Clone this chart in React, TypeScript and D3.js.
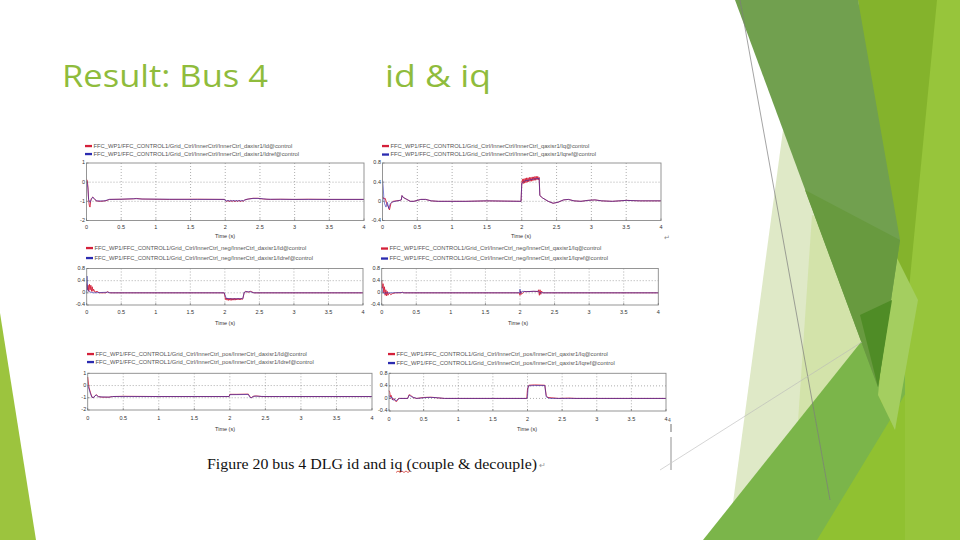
import React from 'react';
import * as d3 from 'd3';

// ---------- data ----------
const timeTicks = [0, 0.5, 1, 1.5, 2, 2.5, 3, 3.5, 4];
const timeTickLabels = ['0', '0.5', '1', '1.5', '2', '2.5', '3', '3.5', '4'];
const yTicksWide = [1, 0, -1, -2];
const yTickLabelsWide = ['1', '0', '-1', '-2'];
const yTicksNarrow = [0.8, 0.4, 0, -0.4];
const yTickLabelsNarrow = ['0.8', '0.4', '0', '-0.4'];

const p1Legend = [
  'FFC_WP1/FFC_CONTROL1/Grid_Ctrl/InnerCtrl/InnerCtrl_daxisr1/Id@control',
  'FFC_WP1/FFC_CONTROL1/Grid_Ctrl/InnerCtrl/InnerCtrl_daxisr1/Idref@control',
];
const p2Legend = [
  'FFC_WP1/FFC_CONTROL1/Grid_Ctrl/InnerCtrl/InnerCtrl_qaxisr1/Iq@control',
  'FFC_WP1/FFC_CONTROL1/Grid_Ctrl/InnerCtrl/InnerCtrl_qaxisr1/Iqref@control',
];
const p3Legend = [
  'FFC_WP1/FFC_CONTROL1/Grid_Ctrl/InnerCtrl_neg/InnerCtrl_daxisr1/Id@control',
  'FFC_WP1/FFC_CONTROL1/Grid_Ctrl/InnerCtrl_neg/InnerCtrl_daxisr1/Idref@control',
];
const p4Legend = [
  'FFC_WP1/FFC_CONTROL1/Grid_Ctrl/InnerCtrl_neg/InnerCtrl_qaxisr1/Iq@control',
  'FFC_WP1/FFC_CONTROL1/Grid_Ctrl/InnerCtrl_neg/InnerCtrl_qaxisr1/Iqref@control',
];
const p5Legend = [
  'FFC_WP1/FFC_CONTROL1/Grid_Ctrl/InnerCtrl_pos/InnerCtrl_daxisr1/Id@control',
  'FFC_WP1/FFC_CONTROL1/Grid_Ctrl/InnerCtrl_pos/InnerCtrl_daxisr1/Idref@control',
];
const p6Legend = [
  'FFC_WP1/FFC_CONTROL1/Grid_Ctrl/InnerCtrl_pos/InnerCtrl_qaxisr1/Iq@control',
  'FFC_WP1/FFC_CONTROL1/Grid_Ctrl/InnerCtrl_pos/InnerCtrl_qaxisr1/Iqref@control',
];

const p1Id: [number, number][] = [
  [0, 0.15], [0.01, 0.1], [0.02, -0.2], [0.03, -0.9], [0.04, -1.2], [0.05, -1.3], [0.06, -1.0], [0.07, -0.85],
  [0.09, -0.78], [0.11, -0.85], [0.14, -0.98], [0.2, -1.0], [0.28, -0.97], [0.33, -0.9], [0.5, -0.89], [0.68, -0.87],
  [0.72, -0.85], [0.8, -0.88], [1.2, -0.9], [1.6, -0.89], [1.99, -0.9], [2.0, -0.95], [2.02, -1.02], [2.04, -0.94],
  [2.06, -1.03], [2.08, -0.95], [2.1, -1.02], [2.12, -0.94], [2.14, -1.03], [2.16, -0.95], [2.18, -1.02], [2.2, -0.94],
  [2.22, -1.03], [2.24, -0.95], [2.26, -1.0], [2.28, -0.93], [2.33, -0.88], [2.4, -0.84], [2.47, -0.84], [2.55, -0.88],
  [2.65, -0.9], [2.8, -0.89], [3.0, -0.9], [3.2, -0.89], [3.5, -0.9], [4, -0.9],
];
const p1IdRef: [number, number][] = [
  [0, 0.1], [0.02, -0.3], [0.03, -0.9], [0.05, -1.05], [0.07, -0.9], [0.09, -0.78], [0.12, -0.9], [0.15, -0.98],
  [0.25, -0.98], [0.33, -0.9], [0.5, -0.89], [0.7, -0.86], [0.8, -0.88], [1.5, -0.9], [1.99, -0.9], [2.0, -0.97],
  [2.26, -0.97], [2.3, -0.9], [2.4, -0.85], [2.5, -0.85], [2.6, -0.89], [3.0, -0.9], [4, -0.9],
];

const p2Iq: [number, number][] = [
  [0, 0.1], [0.02, 0.05], [0.04, 0.06], [0.06, -0.05], [0.08, -0.1], [0.1, -0.18], [0.12, -0.05], [0.15, 0.0],
  [0.25, 0.02], [0.27, 0.03], [0.28, 0.12], [0.3, 0.08], [0.35, 0.04], [0.4, 0.0], [0.45, 0.0], [0.55, 0.04],
  [0.62, 0.04], [0.7, 0.01], [0.8, 0.0], [1.2, 0.0], [1.5, 0.01], [1.99, 0.0],
  [2.0, 0.36], [2.01, 0.46], [2.02, 0.37], [2.03, 0.47], [2.04, 0.38], [2.05, 0.48], [2.06, 0.39], [2.07, 0.49],
  [2.08, 0.4], [2.09, 0.49], [2.1, 0.41], [2.11, 0.5], [2.12, 0.42], [2.13, 0.5], [2.14, 0.42], [2.15, 0.51],
  [2.16, 0.43], [2.17, 0.51], [2.18, 0.44], [2.19, 0.52], [2.2, 0.44], [2.21, 0.52], [2.22, 0.45], [2.23, 0.52],
  [2.24, 0.45], [2.25, 0.5], [2.26, 0.12], [2.3, 0.07], [2.38, 0.0], [2.45, -0.04], [2.52, -0.02], [2.6, 0.03],
  [2.67, 0.04], [2.75, 0.01], [2.85, 0.0], [2.95, 0.02], [3.05, 0.03], [3.15, 0.01], [3.3, 0.0], [3.5, 0.02],
  [3.7, 0.01], [4, 0.01],
];
const p2IqRef: [number, number][] = [
  [0, 0.45], [0.01, 0.3], [0.02, 0.05], [0.03, -0.05], [0.05, -0.12], [0.07, -0.02], [0.09, -0.15], [0.11, -0.05],
  [0.13, -0.02], [0.18, 0.0], [0.25, 0.02], [0.27, 0.03], [0.28, 0.12], [0.3, 0.08], [0.35, 0.04], [0.4, 0.0],
  [0.45, 0.0], [0.55, 0.04], [0.62, 0.04], [0.7, 0.01], [0.8, 0.0], [1.2, 0.0], [1.5, 0.01], [1.99, 0.0],
  [2.0, 0.38], [2.05, 0.43], [2.1, 0.44], [2.15, 0.46], [2.2, 0.47], [2.25, 0.48], [2.26, 0.12], [2.3, 0.07],
  [2.38, 0.0], [2.45, -0.04], [2.52, -0.02], [2.6, 0.03], [2.67, 0.04], [2.75, 0.01], [2.85, 0.0], [2.95, 0.02],
  [3.05, 0.03], [3.15, 0.01], [3.3, 0.0], [3.5, 0.02], [3.7, 0.01], [4, 0.01],
];

const p3Id: [number, number][] = [
  [0, 0.3], [0.01, 0.1], [0.02, 0.25], [0.03, 0.05], [0.04, 0.28], [0.05, 0.1], [0.06, 0.25], [0.07, 0.05],
  [0.08, 0.2], [0.09, 0.05], [0.1, 0.12], [0.12, 0.02], [0.15, 0.05], [0.18, 0.0], [0.28, 0.0], [0.3, 0.04],
  [0.33, 0.0], [1.99, 0.0], [2.0, -0.1], [2.01, -0.22], [2.02, -0.17], [2.03, -0.24], [2.04, -0.18], [2.05, -0.25],
  [2.06, -0.18], [2.07, -0.24], [2.08, -0.18], [2.09, -0.25], [2.1, -0.18], [2.11, -0.24], [2.12, -0.18], [2.13, -0.24],
  [2.14, -0.18], [2.15, -0.24], [2.16, -0.18], [2.17, -0.23], [2.18, -0.18], [2.19, -0.23], [2.2, -0.18], [2.21, -0.23],
  [2.22, -0.18], [2.23, -0.23], [2.24, -0.18], [2.25, -0.22], [2.26, -0.2], [2.28, 0.0], [2.3, 0.05], [2.34, 0.02],
  [2.37, 0.05], [2.42, 0.0], [4, 0.0],
];
const p3IdRef: [number, number][] = [
  [0, 0.0], [0.005, 0.55], [0.015, 0.1], [0.03, 0.05], [0.06, 0.02], [0.1, 0.0], [0.3, 0.02], [0.35, 0.0],
  [1.99, 0.0], [2.0, -0.05], [2.02, -0.18], [2.1, -0.2], [2.26, -0.19], [2.28, 0.02], [2.32, 0.04], [2.38, 0.03],
  [2.42, 0.0], [4, 0.0],
];

const p4Iq: [number, number][] = [
  [0, 0.4], [0.01, 0.15], [0.02, 0.3], [0.03, 0.0], [0.04, 0.2], [0.05, -0.08], [0.06, 0.1], [0.07, -0.1],
  [0.08, 0.05], [0.09, -0.08], [0.11, 0.0], [0.13, -0.06], [0.16, -0.02], [0.2, 0.0], [0.28, 0.0], [0.3, 0.02],
  [0.32, 0.0], [1.99, 0.0], [2.0, -0.08], [2.01, 0.06], [2.02, -0.05], [2.04, 0.0], [2.06, 0.04], [2.1, 0.04],
  [2.2, 0.05], [2.26, 0.04], [2.27, 0.1], [2.28, -0.08], [2.29, 0.1], [2.3, -0.05], [2.31, 0.06], [2.33, 0.0],
  [4, 0.0],
];
const p4IqRef: [number, number][] = [
  [0, 0.2], [0.01, 0.05], [0.03, -0.02], [0.06, 0.0], [0.1, 0.0], [0.3, 0.01], [0.32, 0.0], [1.99, 0.0],
  [2.0, 0.12], [2.01, -0.02], [2.03, 0.05], [2.1, 0.04], [2.2, 0.05], [2.26, 0.05], [2.28, 0.02], [2.3, 0.0],
  [4, 0.0],
];

const p5Id: [number, number][] = [
  [0, 0.7], [0.01, 0.2], [0.02, -0.2], [0.04, -0.6], [0.06, -0.95], [0.08, -1.0], [0.1, -0.85], [0.12, -0.75],
  [0.15, -0.9], [0.2, -0.95], [0.3, -0.95], [0.35, -0.9], [0.5, -0.88], [1.0, -0.9], [1.5, -0.9], [1.99, -0.9],
  [2.0, -0.72], [2.1, -0.72], [2.26, -0.7], [2.28, -0.9], [2.3, -1.0], [2.33, -0.88], [2.37, -0.85], [2.45, -0.9],
  [2.7, -0.9], [4, -0.9],
];
const p5IdRef: [number, number][] = [
  [0, 0.0], [0.02, -0.3], [0.04, -0.7], [0.06, -0.95], [0.08, -1.0], [0.1, -0.85], [0.12, -0.78], [0.15, -0.92],
  [0.3, -0.95], [0.35, -0.9], [1.99, -0.9], [2.0, -0.75], [2.26, -0.73], [2.28, -0.95], [2.3, -1.0], [2.34, -0.87],
  [2.4, -0.88], [2.5, -0.9], [4, -0.9],
];

const p6Iq: [number, number][] = [
  [0, 0.25], [0.01, 0.2], [0.02, 0.05], [0.03, 0.1], [0.05, -0.05], [0.07, 0.0], [0.09, -0.08], [0.11, -0.1],
  [0.13, -0.02], [0.15, 0.0], [0.27, 0.0], [0.29, 0.12], [0.31, 0.1], [0.35, 0.03], [0.4, 0.0], [0.5, 0.03],
  [0.6, 0.04], [0.7, 0.02], [0.8, 0.0], [1.99, 0.0], [2.0, 0.3], [2.02, 0.42], [2.1, 0.43], [2.25, 0.42],
  [2.27, 0.1], [2.29, 0.03], [2.35, 0.02], [2.45, 0.0], [2.6, 0.01], [2.7, 0.0], [4, 0.0],
];
const p6IqRef: [number, number][] = [
  [0, 0.1], [0.02, 0.0], [0.04, 0.05], [0.06, -0.06], [0.08, -0.02], [0.1, -0.08], [0.12, -0.04], [0.15, 0.0],
  [0.27, 0.0], [0.29, 0.1], [0.33, 0.05], [0.4, 0.0], [0.55, 0.03], [0.65, 0.03], [0.8, 0.0], [1.99, 0.0],
  [2.0, 0.05], [2.01, 0.4], [2.1, 0.41], [2.25, 0.41], [2.27, 0.05], [2.32, 0.0], [4, 0.0],
];

// ---------- layout ----------
type Panel = {
  x0: number; x1: number; yTop: number; yBot: number;
  domain: [number, number]; ticks: number[]; tickLabels: string[];
  legend: string[]; legendX: number; legendY: [number, number];
  red: [number, number][]; blue: [number, number][];
  timeX: number; timeY: number; labelY: number;
};

const panels: Panel[] = [
  { x0: 86.5, x1: 364, yTop: 163, yBot: 220.5, domain: [-2, 1], ticks: yTicksWide, tickLabels: yTickLabelsWide,
    legend: p1Legend, legendX: 85, legendY: [146, 154], red: p1Id, blue: p1IdRef, timeX: 225, timeY: 236.5, labelY: 227.5 },
  { x0: 382.5, x1: 661, yTop: 163, yBot: 220.5, domain: [-0.4, 0.8], ticks: yTicksNarrow, tickLabels: yTickLabelsNarrow,
    legend: p2Legend, legendX: 382, legendY: [146, 154.5], red: p2Iq, blue: p2IqRef, timeX: 521, timeY: 236.5, labelY: 227.5 },
  { x0: 86.7, x1: 363, yTop: 268.5, yBot: 305, domain: [-0.4, 0.8], ticks: yTicksNarrow, tickLabels: yTickLabelsNarrow,
    legend: p3Legend, legendX: 86, legendY: [248, 258], red: p3Id, blue: p3IdRef, timeX: 225, timeY: 323.5, labelY: 312.5 },
  { x0: 381.7, x1: 658.3, yTop: 268.5, yBot: 305, domain: [-0.4, 0.8], ticks: yTicksNarrow, tickLabels: yTickLabelsNarrow,
    legend: p4Legend, legendX: 381, legendY: [248.5, 258.5], red: p4Iq, blue: p4IqRef, timeX: 518, timeY: 323.5, labelY: 312.7 },
  { x0: 87.7, x1: 372, yTop: 373.3, yBot: 410, domain: [-2, 1], ticks: yTicksWide, tickLabels: yTickLabelsWide,
    legend: p5Legend, legendX: 87, legendY: [354, 362], red: p5Id, blue: p5IdRef, timeX: 225, timeY: 429.5, labelY: 419 },
  { x0: 389, x1: 666, yTop: 373.3, yBot: 411, domain: [-0.4, 0.8], ticks: yTicksNarrow, tickLabels: yTickLabelsNarrow,
    legend: p6Legend, legendX: 388, legendY: [354, 363], red: p6Iq, blue: p6IqRef, timeX: 527, timeY: 430, labelY: 420 },
];

const RED = '#d4203a';
const BLUE = '#2b2bb0';
const SANS = '"Liberation Sans", Arial, sans-serif';

function ChartPanel({ p }: { p: Panel }) {
  const x = d3.scaleLinear().domain([0, 4]).range([p.x0, p.x1]);
  const y = d3.scaleLinear().domain(p.domain).range([p.yBot, p.yTop]);
  const line = d3.line<[number, number]>().x((d) => x(d[0])).y((d) => y(d[1]));
  const innerX = timeTicks.slice(1, -1);
  const innerY = p.ticks.slice(1, -1);
  return (
    <g>
      {p.legend.map((t, i) => (
        <g key={i}>
          <rect x={p.legendX} y={p.legendY[i] - 1.1} width={7} height={2.3} fill={i === 0 ? RED : BLUE} />
          <text x={p.legendX + 8.5} y={p.legendY[i]} fontSize={5.8} fill="#555" fontFamily={SANS} dominantBaseline="middle">{t}</text>
        </g>
      ))}
      {innerX.map((t) => (
        <line key={'gx' + t} x1={x(t)} x2={x(t)} y1={p.yTop} y2={p.yBot} stroke="#777" strokeWidth={0.6} strokeDasharray="1,2" />
      ))}
      {innerY.map((t) => (
        <line key={'gy' + t} x1={p.x0} x2={p.x1} y1={y(t)} y2={y(t)} stroke="#777" strokeWidth={0.6} strokeDasharray="1,2" />
      ))}
      <path d={line(p.red) || ''} fill="none" stroke={RED} strokeWidth={0.9} />
      <path d={line(p.blue) || ''} fill="none" stroke={BLUE} strokeWidth={0.8} strokeOpacity={0.75} />
      <rect x={p.x0} y={p.yTop} width={p.x1 - p.x0} height={p.yBot - p.yTop} fill="none" stroke="#8a8a8a" strokeWidth={0.9} />
      {timeTicks.map((t) => (
        <line key={'tx' + t} x1={x(t)} x2={x(t)} y1={p.yBot} y2={p.yBot - 2} stroke="#666" strokeWidth={0.6} />
      ))}
      {p.ticks.map((t) => (
        <line key={'ty' + t} x1={p.x0} x2={p.x0 + 2} y1={y(t)} y2={y(t)} stroke="#666" strokeWidth={0.6} />
      ))}
      {timeTicks.map((t, i) => (
        <text key={'lx' + t} x={x(t)} y={p.labelY} fontSize={5.5} fill="#333" fontFamily={SANS} textAnchor="middle" dominantBaseline="middle">
          {timeTickLabels[i]}
        </text>
      ))}
      {p.ticks.map((t, i) => (
        <text key={'ly' + t} x={p.x0 - 1.5} y={y(t)} fontSize={5.5} fill="#333" fontFamily={SANS} textAnchor="end" dominantBaseline="middle">
          {p.tickLabels[i]}
        </text>
      ))}
      <text x={p.timeX} y={p.timeY} fontSize={5.5} fill="#333" fontFamily={SANS} textAnchor="middle" dominantBaseline="middle">Time (s)</text>
    </g>
  );
}

function Decor() {
  const pts = (a: number[][]) => a.map((d) => d.join(',')).join(' ');
  return (
    <g>
      <polygon points={pts([[0, 313], [36, 540], [0, 540]])} fill="#9cc43e" />
      <polygon points={pts([[783, 130], [728, 540], [905, 540], [905, 250]])} fill="#dfe9c7" />
      <polygon points={pts([[812, 215], [790, 540], [905, 540], [905, 250]])} fill="#cfe1a2" opacity={0.8} />
      <polygon points={pts([[703, 540], [960, 218], [960, 540]])} fill="#7bb54a" />
      <polygon points={pts([[817, 540], [890, 420], [960, 300], [960, 540]])} fill="#90c131" />
      <polygon points={pts([[858, 0], [940, 0], [910, 290], [892, 420], [880, 400]])} fill="#84b32c" />
      <polygon points={pts([[937, 0], [960, 0], [960, 540], [905, 540], [905, 330]])} fill="#97c53b" />
      <polygon points={pts([[893, 250], [918, 300], [895, 430], [878, 395]])} fill="#a4ce60" />
      <polygon points={pts([[735, 0], [858, 0], [900, 240], [878, 387]])} fill="#71a04f" />
      <polygon points={pts([[805, 190], [900, 240], [878, 387]])} fill="#689a3f" />
      <polygon points={pts([[860, 315], [892, 300], [878, 387]])} fill="#4f8c26" />
      <line x1={740} y1={0} x2={830} y2={500} stroke="#7d7d7d" strokeWidth={0.7} />
      <line x1={660} y1={470} x2={862} y2={342} stroke="#b8b8b8" strokeWidth={0.6} />
    </g>
  );
}

const TITLE_FONT = '"Open Sans", Lato, sans-serif';

export default function App() {
  return (
    <svg width={960} height={540} style={{ position: 'absolute', left: 0, top: 0, background: '#fff' }}>
      <rect x={0} y={0} width={960} height={540} fill="#fff" />
      <Decor />
      <text x={62} y={87} fontSize={31} fill="#8fbc3c" fontFamily={TITLE_FONT} textLength={206} lengthAdjust="spacingAndGlyphs">Result: Bus 4</text>
      <text x={385} y={87} fontSize={31} fill="#8fbc3c" fontFamily={TITLE_FONT} textLength={106} lengthAdjust="spacingAndGlyphs">id &amp; iq</text>
      {panels.map((p, i) => (
        <ChartPanel key={i} p={p} />
      ))}
      <text x={664} y={240} fontSize={7} fill="#888" fontFamily={SANS}>↵</text>
      <text x={668} y={422} fontSize={5} fill="#555" fontFamily={SANS}>4</text>
      <line x1={671} y1={424} x2={671} y2={432} stroke="#333" strokeWidth={0.7} />
      <line x1={671} y1={437} x2={671} y2={470} stroke="#c8c8c8" strokeWidth={2} />
      <text x={207} y={469} fontSize={15.5} fill="#111" fontFamily='"Liberation Serif", "Times New Roman", serif' textLength={330} lengthAdjust="spacingAndGlyphs">
        Figure 20 bus 4 DLG id and iq (couple &amp; decouple)
      </text>
      <path d="M396,472.5 l2,-1.5 l2,1.5 l2,-1.5 l2,1.5 l2,-1.5 l2,1.5 l2,-1.5" fill="none" stroke="#d02020" strokeWidth={0.7} />
      <text x={539} y={468} fontSize={8} fill="#999" fontFamily={SANS}>↵</text>
    </svg>
  );
}
